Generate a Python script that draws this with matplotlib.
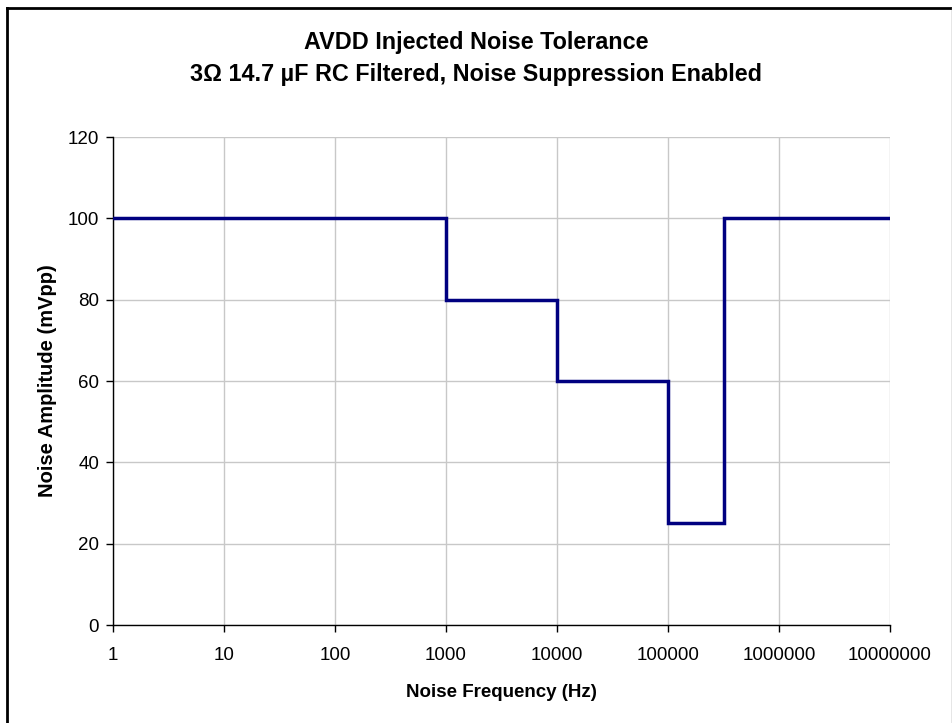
import matplotlib
matplotlib.use("Agg")
import matplotlib.pyplot as plt
from matplotlib.lines import Line2D
from matplotlib.ticker import FixedLocator, FixedFormatter, NullLocator

plt.rcParams['font.family'] = ['Liberation Sans', 'DejaVu Sans']

# Step edges of the tolerance curve (Hz) and the amplitude held after each edge (mVpp)
freq_hz = [1, 1000, 10000, 100000, 320000, 10000000]
amplitude_mvpp = [100, 80, 60, 25, 100, 100]

x_ticks = [1, 10, 100, 1000, 10000, 100000, 1000000, 10000000]
x_tick_labels = ["1", "10", "100", "1000", "10000", "100000", "1000000", "10000000"]
y_ticks = [0, 20, 40, 60, 80, 100, 120]

title = "AVDD Injected Noise Tolerance\n3Ω 14.7 µF RC Filtered, Noise Suppression Enabled"
x_label = "Noise Frequency (Hz)"
y_label = "Noise Amplitude (mVpp)"

W, H = 953, 723
fig = plt.figure(figsize=(W / 100, H / 100), dpi=100)
ax = fig.add_axes([113 / W, 1 - 625 / H, (890 - 113) / W, (625 - 137) / H])

ax.step(freq_hz, amplitude_mvpp, where="post", color="#000080", linewidth=2.5,
        solid_joinstyle="miter", zorder=3)

ax.set_xscale("log")
ax.set_xlim(1, 1e7)
ax.set_ylim(0, 120)
ax.xaxis.set_major_locator(FixedLocator(x_ticks))
ax.xaxis.set_major_formatter(FixedFormatter(x_tick_labels))
ax.xaxis.set_minor_locator(NullLocator())
ax.set_yticks(y_ticks)

ax.grid(True, color="#c8c8c8", linewidth=1.0)
ax.set_axisbelow(True)
for side in ("top", "right"):
    ax.spines[side].set_visible(False)
for side in ("left", "bottom"):
    ax.spines[side].set_color("black")
    ax.spines[side].set_linewidth(1.0)

ax.tick_params(axis="both", direction="out", length=5, width=1, color="black",
               labelsize=13.5)
ax.tick_params(axis="x", pad=11)
ax.tick_params(axis="y", pad=5)

ax.set_xlabel(x_label, fontsize=13.5, fontweight="bold", labelpad=14)
ax.set_ylabel(y_label, fontsize=14.5, fontweight="bold", labelpad=8)

fig.text(0.5, 1 - 58.5 / H, title, ha="center", va="center", fontsize=16.8,
         fontweight="bold", linespacing=1.55)

# Outer frame of the chart area
fig.add_artist(Line2D([7.5 / W, 7.5 / W], [0, 1 - 7.5 / H], transform=fig.transFigure,
                      color="black", linewidth=2.0))
fig.add_artist(Line2D([6.5 / W, 952 / W], [1 - 7.5 / H, 1 - 7.5 / H],
                      transform=fig.transFigure, color="black", linewidth=2.0))
fig.add_artist(Line2D([952 / W, 952 / W], [0, 1 - 7.5 / H], transform=fig.transFigure,
                      color="#808080", linewidth=1.0))

fig.savefig("out.png", dpi=100)
